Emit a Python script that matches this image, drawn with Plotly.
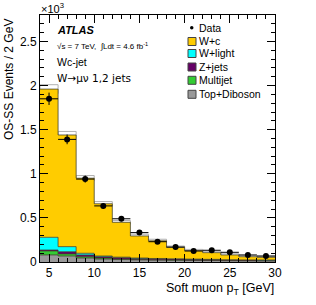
import plotly.graph_objects as go
import numpy as np

# bin edges (GeV) and stacked contributions (x10^3 events / 2 GeV)
edges = [4, 6, 8, 10, 12, 14, 16, 18, 20, 22, 24, 26, 28, 30]
top_diboson = [0.080, 0.068, 0.045, 0.034, 0.028, 0.024, 0.022, 0.020, 0.018, 0.017, 0.015, 0.014, 0.013]
multijet    = [0.045, 0.023, 0.015, 0.011, 0.006, 0.004, 0.003, 0.002, 0.002, 0.002, 0.001, 0.001, 0.001]
z_jets      = [0.011, 0.026, 0.020, 0.015, 0.016, 0.013, 0.012, 0.011, 0.010, 0.009, 0.008, 0.007, 0.007]
w_light     = [0.144, 0.057, 0.019, 0.008, 0.005, 0.004, 0.003, 0.003, 0.003, 0.002, 0.002, 0.002, 0.002]
w_c         = [1.680, 1.266, 0.851, 0.592, 0.395, 0.250, 0.200, 0.129, 0.095, 0.076, 0.054, 0.036, 0.030]
mc_unc      = [0.050, 0.040, 0.030, 0.025, 0.020, 0.020, 0.018, 0.016, 0.015, 0.015, 0.013, 0.012, 0.012]

data_y   = [1.850, 1.390, 0.940, 0.636, 0.490, 0.333, 0.230, 0.170, 0.125, 0.133, 0.110, 0.080, 0.068]
data_err = [0.070, 0.055, 0.040, 0.032, 0.028, 0.024, 0.021, 0.019, 0.017, 0.016, 0.015, 0.013, 0.012]

components = [
    ("Top+Diboson", top_diboson, "#999999"),
    ("Multijet", multijet, "#33cc33"),
    ("Z+jets", z_jets, "#660066"),
    ("W+light", w_light, "#00ffff"),
    ("W+c", w_c, "#ffcc00"),
]

edges_arr = np.array(edges, dtype=float)
centers = (edges_arr[:-1] + edges_arr[1:]) / 2
widths = np.diff(edges_arr)

fig = go.Figure()

cum = np.zeros(len(centers))
for i, (name, vals, col) in enumerate(components):
    cum = cum + np.array(vals)
    ystep = list(cum) + [cum[-1]]
    fig.add_trace(go.Scatter(
        x=edges, y=ystep, mode="lines", name=name,
        line=dict(shape="hv", width=1, color="rgba(60,60,40,0.75)"),
        fill="tozeroy" if i == 0 else "tonexty", fillcolor=col, showlegend=False, hoverinfo="skip"))

total = cum
unc = np.array(mc_unc)
fig.add_trace(go.Bar(
    x=centers, y=2 * unc, base=total - unc, width=widths,
    marker=dict(color="rgba(0,0,0,0)", line=dict(color="#b0b0b0", width=1)),
    showlegend=False, hoverinfo="skip"))

fig.add_trace(go.Scatter(
    x=centers, y=data_y, mode="markers", name="Data",
    marker=dict(color="black", size=6),
    error_y=dict(type="data", array=data_err, width=0, thickness=1, color="black"),
    error_x=dict(type="data", array=widths / 2, width=0, thickness=1, color="black"),
    showlegend=False))

axis_common = dict(
    showgrid=False, zeroline=False, showline=True, linecolor="black", linewidth=1,
    ticks="inside", mirror="allticks", tickcolor="black", ticklen=8,
    tickfont=dict(family="Liberation Sans, Arial", size=12, color="black"),
)
fig.update_xaxes(range=[4, 30], dtick=5, tick0=0,
                 minor=dict(dtick=1, ticklen=4, ticks="inside", tickcolor="black"),
                 **axis_common)
fig.update_yaxes(range=[0, 2.8], dtick=0.5, tick0=0, tickformat="~g",
                 minor=dict(dtick=0.1, ticklen=4, ticks="inside", tickcolor="black"),
                 **axis_common)

# plot-area pixel geometry helpers for text placement (legend / labels)
L, R, T, B = 40, 275, 15, 262
def px(xp):
    return (xp - L) / (R - L)
def py(yp):
    return (B - yp) / (B - T)

ann_font = dict(family="Liberation Sans, Arial", color="black")
annotations = [
    dict(text="×10<sup>3</sup>", x=px(39), y=py(8), xref="paper", yref="paper", xanchor="left", yanchor="middle",
         showarrow=False, font=dict(size=11, **ann_font)),
    dict(text="<b><i>ATLAS</i></b>", x=px(55), y=py(30), xref="paper", yref="paper", xanchor="left", yanchor="middle",
         showarrow=False, font=dict(size=11, **ann_font)),
    dict(text="√s = 7 TeV,  ∫Ldt = 4.6 fb<sup>-1</sup>", x=px(55), y=py(46), xref="paper", yref="paper",
         xanchor="left", yanchor="middle", showarrow=False, font=dict(size=8, **ann_font)),
    dict(text="Wc-jet", x=px(55), y=py(62), xref="paper", yref="paper", xanchor="left", yanchor="middle",
         showarrow=False, font=dict(size=10.5, **ann_font)),
    dict(text="W→μν 1,2 jets", x=px(55), y=py(78), xref="paper", yref="paper", xanchor="left", yanchor="middle",
         showarrow=False, font=dict(size=10.5, family="DejaVu Sans, Liberation Sans", color="black")),
    dict(text="Soft muon p<sub>T</sub> [GeV]", x=px(276), y=py(288.5), xref="paper", yref="paper", xanchor="right",
         yanchor="middle", showarrow=False, font=dict(size=12.5, **ann_font)),
    dict(text="OS-SS Events / 2 GeV", x=px(9), y=py(80), xref="paper", yref="paper", xanchor="center",
         yanchor="middle", textangle=-90, showarrow=False, font=dict(size=12, **ann_font)),
]

# legend drawn as a key (swatches + labels)
legend_entries = [("Data", None)] + [(n, c) for n, v, c in reversed(components)]
legend_y = [27.7, 41.5, 53.5, 67.0, 80.3, 94.3]
shapes = []
for (name, col), yy in zip(legend_entries, legend_y):
    annotations.append(dict(text=name, x=px(196.5), y=py(yy), xref="paper", yref="paper",
                            xanchor="left", yanchor="middle", showarrow=False,
                            font=dict(size=10.5, **ann_font)))
    if col is None:
        shapes.append(dict(type="circle", xref="paper", yref="paper",
                           x0=px(190), x1=px(193.5), y0=py(yy + 1.75), y1=py(yy - 1.75),
                           fillcolor="black", line=dict(color="black", width=0)))
    else:
        shapes.append(dict(type="rect", xref="paper", yref="paper",
                           x0=px(188), x1=px(196), y0=py(yy + 4), y1=py(yy - 4),
                           fillcolor=col, line=dict(color="#444444", width=1)))

fig.update_layout(
    width=316, height=305,
    margin=dict(l=40, r=41, t=15, b=43),
    paper_bgcolor="white", plot_bgcolor="white",
    annotations=annotations, shapes=shapes,
    showlegend=False,
)

fig.write_html("out.html", config={"displayModeBar": False},
               post_script="document.body.style.margin='0';document.body.style.overflow='hidden';")
